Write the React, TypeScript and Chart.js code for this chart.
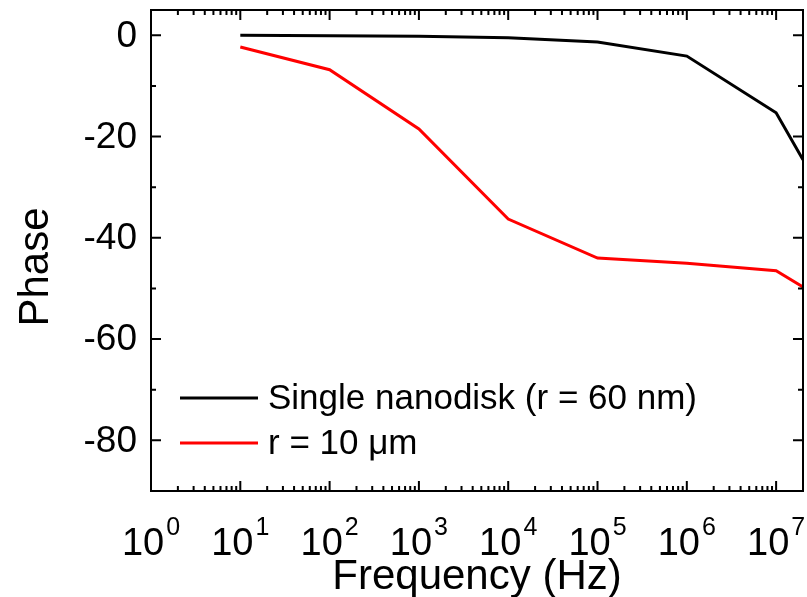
import React, { useEffect, useRef } from "react";
import { Chart, registerables } from "chart.js";

Chart.register(...registerables);

const FONT = '"Liberation Sans", Arial, Helvetica, sans-serif';

// Data
const frequencies = [10, 100, 1e3, 1e4, 1e5, 1e6, 1e7, 2e7];
const singleNanodisk = [0, -0.1, -0.2, -0.5, -1.3, -4.1, -15.3, -24.6];
const r10um = [-2.3, -6.8, -18.5, -36.3, -44.0, -45.0, -46.5, -49.7];
const seriesLabels = ["Single nanodisk (r = 60 nm)", "r = 10 \u03bcm"];
const seriesColors = ["#000000", "#ff0000"];

// Ticks
const xExponents = [0, 1, 2, 3, 4, 5, 6, 7];
const yMajorTicks = [0, -20, -40, -60, -80];
const yMinorTicks = [-10, -30, -50, -70, -90];
const xMin = 1;
const xMax = 2e7;
const yMin = -90;
const yMax = 5;

const framePlugin = {
  id: "framePlugin",
  beforeDraw(chart: any) {
    const { ctx, width, height } = chart;
    ctx.save();
    ctx.fillStyle = "#ffffff";
    ctx.fillRect(0, 0, width, height);
    ctx.restore();
  },
  afterDraw(chart: any) {
    const { ctx, chartArea } = chart;
    const { left, right, top, bottom } = chartArea;
    const xs = chart.scales.x;
    const ys = chart.scales.y;
    ctx.save();
    ctx.strokeStyle = "#000";
    ctx.lineWidth = 2;
    ctx.lineCap = "butt";
    ctx.strokeRect(left, top, right - left, bottom - top);

    const major = 10;
    const minor = 5;
    for (const e of xExponents) {
      const base = Math.pow(10, e);
      const px = xs.getPixelForValue(base);
      if (e > 0) {
        ctx.beginPath();
        ctx.moveTo(px, bottom);
        ctx.lineTo(px, bottom - major);
        ctx.moveTo(px, top);
        ctx.lineTo(px, top + major);
        ctx.stroke();
      }
      for (let m = 2; m <= 9; m++) {
        const v = base * m;
        if (v > xMax) break;
        const mp = xs.getPixelForValue(v);
        ctx.beginPath();
        ctx.moveTo(mp, bottom);
        ctx.lineTo(mp, bottom - minor);
        ctx.moveTo(mp, top);
        ctx.lineTo(mp, top + minor);
        ctx.stroke();
      }
    }
    for (const v of yMajorTicks) {
      const py = ys.getPixelForValue(v);
      ctx.beginPath();
      ctx.moveTo(left, py);
      ctx.lineTo(left + major, py);
      ctx.moveTo(right, py);
      ctx.lineTo(right - major, py);
      ctx.stroke();
    }
    for (const v of yMinorTicks) {
      const py = ys.getPixelForValue(v);
      if (py >= bottom - 1) continue;
      ctx.beginPath();
      ctx.moveTo(left, py);
      ctx.lineTo(left + minor, py);
      ctx.moveTo(right, py);
      ctx.lineTo(right - minor, py);
      ctx.stroke();
    }

    ctx.fillStyle = "#000";
    ctx.font = `37px ${FONT}`;
    ctx.textAlign = "right";
    ctx.textBaseline = "middle";
    for (const v of yMajorTicks) {
      const py = ys.getPixelForValue(v);
      ctx.fillText(String(v), left - 14, py + 1);
    }

    ctx.textBaseline = "alphabetic";
    ctx.textAlign = "left";
    for (const e of xExponents) {
      const px = xs.getPixelForValue(Math.pow(10, e));
      ctx.font = `38px ${FONT}`;
      const wb = ctx.measureText("10").width;
      ctx.font = `25px ${FONT}`;
      const ws = ctx.measureText(String(e)).width;
      const total = wb + 2 + ws;
      const x0 = px - total / 2;
      ctx.font = `38px ${FONT}`;
      ctx.fillText("10", x0, 555);
      ctx.font = `25px ${FONT}`;
      ctx.fillText(String(e), x0 + wb + 2, 535);
    }

    ctx.font = `42px ${FONT}`;
    ctx.textAlign = "center";
    ctx.textBaseline = "alphabetic";
    ctx.fillText("Frequency (Hz)", (left + right) / 2, 589);
    ctx.save();
    ctx.translate(36, 267);
    ctx.rotate(-Math.PI / 2);
    ctx.textBaseline = "middle";
    ctx.fillText("Phase", 0, 0);
    ctx.restore();

    const ds = chart.data.datasets;
    const rows = [398, 443];
    ds.forEach((d: any, i: number) => {
      const y = rows[i];
      ctx.strokeStyle = d.borderColor;
      ctx.lineWidth = 3;
      ctx.beginPath();
      ctx.moveTo(180, y);
      ctx.lineTo(258, y);
      ctx.stroke();
      ctx.fillStyle = "#000";
      ctx.font = `35px ${FONT}`;
      ctx.textAlign = "left";
      ctx.textBaseline = "middle";
      ctx.fillText(d.label, 268, y + 1);
    });
    ctx.restore();
  },
};

export default function App() {
  const ref = useRef<HTMLCanvasElement | null>(null);
  useEffect(() => {
    if (!ref.current) return;
    const chart = new Chart(ref.current, {
      type: "line",
      data: {
        datasets: [
          {
            label: seriesLabels[0],
            data: frequencies.map((f, i) => ({ x: f, y: singleNanodisk[i] })),
            borderColor: seriesColors[0],
            backgroundColor: seriesColors[0],
            borderWidth: 3,
            pointRadius: 0,
            tension: 0,
          },
          {
            label: seriesLabels[1],
            data: frequencies.map((f, i) => ({ x: f, y: r10um[i] })),
            borderColor: seriesColors[1],
            backgroundColor: seriesColors[1],
            borderWidth: 3,
            pointRadius: 0,
            tension: 0,
          },
        ],
      },
      options: {
        responsive: false,
        animation: false,
        events: [],
        layout: { padding: { left: 151, top: 10, right: 4, bottom: 106 } },
        plugins: {
          legend: { display: false },
          tooltip: { enabled: false },
          title: { display: false },
        },
        scales: {
          x: { type: "logarithmic", min: xMin, max: xMax, display: false },
          y: { type: "linear", min: yMin, max: yMax, display: false },
        },
      },
      plugins: [framePlugin],
    });
    return () => chart.destroy();
  }, []);
  return (
    <div style={{ position: "absolute", left: 0, top: 0, width: 807, height: 597 }}>
      <canvas ref={ref} width={807} height={597} style={{ width: 807, height: 597 }} />
    </div>
  );
}
